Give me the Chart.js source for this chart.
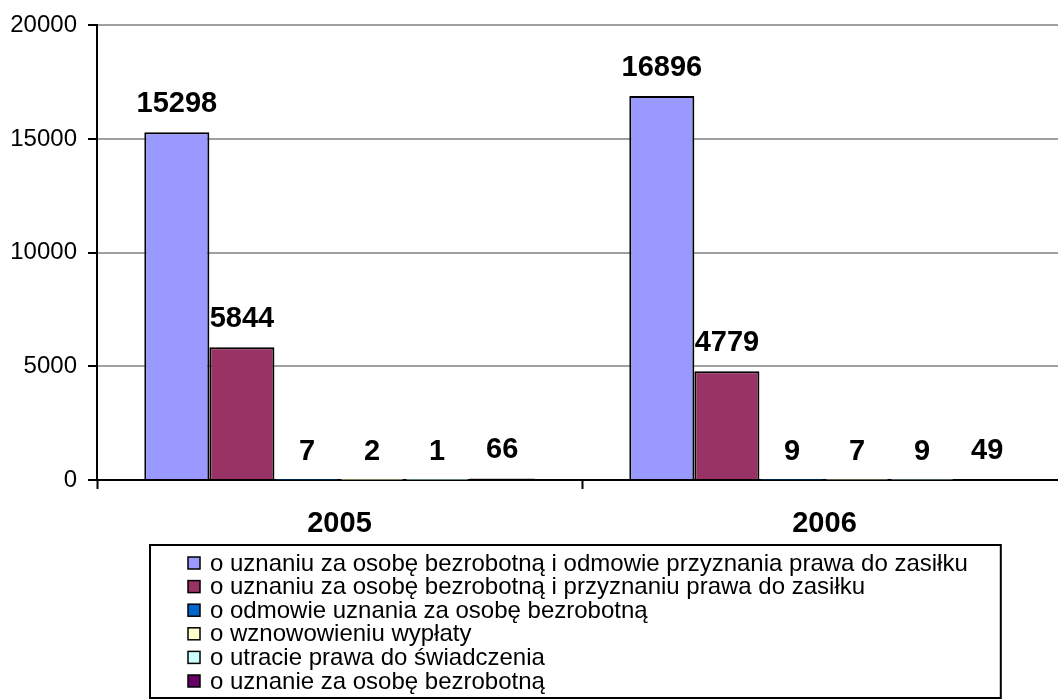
<!DOCTYPE html>
<html lang="pl">
<head>
  <meta charset="UTF-8" />
  <title>Decyzje 2005-2006</title>
  <script src="https://cdn.jsdelivr.net/npm/chart.js"></script>
  <style>
    html, body {
      margin: 0;
      padding: 0;
      background: #fff;
      overflow: hidden;
    }
    .wrap {
      position: relative;
      width: 1068px;
      height: 700px;
    }
  </style>
</head>
<body>
  <div class="wrap">
    <canvas id="chart"></canvas>
  </div>

  <script>
    const categories = ["2005", "2006"];

    const seriesNames = [
      "o uznaniu za osobę bezrobotną i odmowie przyznania prawa do zasiłku",
      "o uznaniu za osobę bezrobotną i przyznaniu prawa do zasiłku",
      "o odmowie uznania za osobę bezrobotną",
      "o wznowowieniu wypłaty",
      "o utracie prawa do świadczenia",
      "o uznanie za osobę bezrobotną"
    ];

    const odmowaZasilku = [15298, 16896];
    const przyznanieZasilku = [5844, 4779];
    const odmowaUznania = [7, 9];
    const wznowienie = [2, 7];
    const utrataPrawa = [1, 9];
    const uznanie = [66, 49];

    const yTicks = [0, 5000, 10000, 15000, 20000];

    const barColors = ["#9999FF", "#993366", "#0066CC", "#FFFFCC", "#CCFFFF", "#660066"];
    const font = '"Liberation Sans", Arial, sans-serif';

    const allSeries = [odmowaZasilku, przyznanieZasilku, odmowaUznania, wznowienie, utrataPrawa, uznanie];

    // values above the bars
    const valueLabels = {
      id: "valueLabels",
      afterDatasetsDraw(chart) {
        const ctx = chart.ctx;
        ctx.save();
        ctx.font = "bold 29px " + font;
        ctx.fillStyle = "#000";
        ctx.textAlign = "center";
        ctx.textBaseline = "alphabetic";
        chart.data.datasets.forEach((ds, i) => {
          chart.getDatasetMeta(i).data.forEach((bar, j) => {
            ctx.fillText(String(ds.data[j]), bar.x, bar.y - 20);
          });
        });
        ctx.restore();
      }
    };

    // boxed legend, one entry per line
    const boxLegend = {
      id: "boxLegend",
      afterDraw(chart) {
        const ctx = chart.ctx;
        ctx.save();
        ctx.font = "24px " + font;
        let maxW = 0;
        chart.data.datasets.forEach(ds => {
          maxW = Math.max(maxW, ctx.measureText(ds.label).width);
        });
        const left = 150, top = 545, textX = 210;
        ctx.lineWidth = 2;
        ctx.strokeStyle = "#000";
        ctx.strokeRect(left, top, textX + maxW + 33 - left, 153);

        ctx.textAlign = "left";
        ctx.textBaseline = "middle";
        chart.data.datasets.forEach((ds, i) => {
          const y = 563 + i * 23.6;
          ctx.fillStyle = ds.backgroundColor;
          ctx.fillRect(188, y - 6, 12, 12);
          ctx.lineWidth = 1.5;
          ctx.strokeRect(188, y - 6, 12, 12);
          ctx.fillStyle = "#000";
          ctx.fillText(ds.label, textX, y + 1);
        });
        ctx.restore();
      }
    };

    new Chart(document.getElementById("chart"), {
      type: "bar",
      data: {
        labels: categories,
        datasets: allSeries.map((values, i) => ({
          label: seriesNames[i],
          data: values,
          backgroundColor: barColors[i],
          borderColor: "#000",
          borderWidth: 2,
          barPercentage: 1,
          categoryPercentage: 0.805
        }))
      },
      options: {
        responsive: true,
        maintainAspectRatio: false,
        animation: false,
        layout: { padding: { left: 0, right: 1, top: 24, bottom: 0 } },
        plugins: {
          legend: { display: false },
          tooltip: { enabled: false }
        },
        scales: {
          x: {
            offset: true,
            grid: {
              offset: true,
              drawOnChartArea: false,
              tickLength: 9,
              tickColor: "#000",
              tickWidth: 2
            },
            border: { color: "#000", width: 2 },
            ticks: {
              color: "#000",
              padding: 18,
              font: { family: font, size: 29, weight: "bold" }
            },
            afterFit(scale) { scale.height = 220; }
          },
          y: {
            min: yTicks[0],
            max: yTicks[yTicks.length - 1],
            afterBuildTicks(scale) {
              scale.ticks = yTicks.map(v => ({ value: v }));
            },
            grid: {
              color: "#a0a0a0",
              lineWidth: 2,
              tickLength: 9,
              tickColor: "#000",
              tickWidth: 2
            },
            border: { color: "#000", width: 2 },
            ticks: {
              color: "#000",
              padding: 11,
              font: { family: font, size: 24 },
              callback: v => String(v)
            },
            afterFit(scale) { scale.width = 97; }
          }
        }
      },
      plugins: [valueLabels, boxLegend]
    });
  </script>
</body>
</html>
